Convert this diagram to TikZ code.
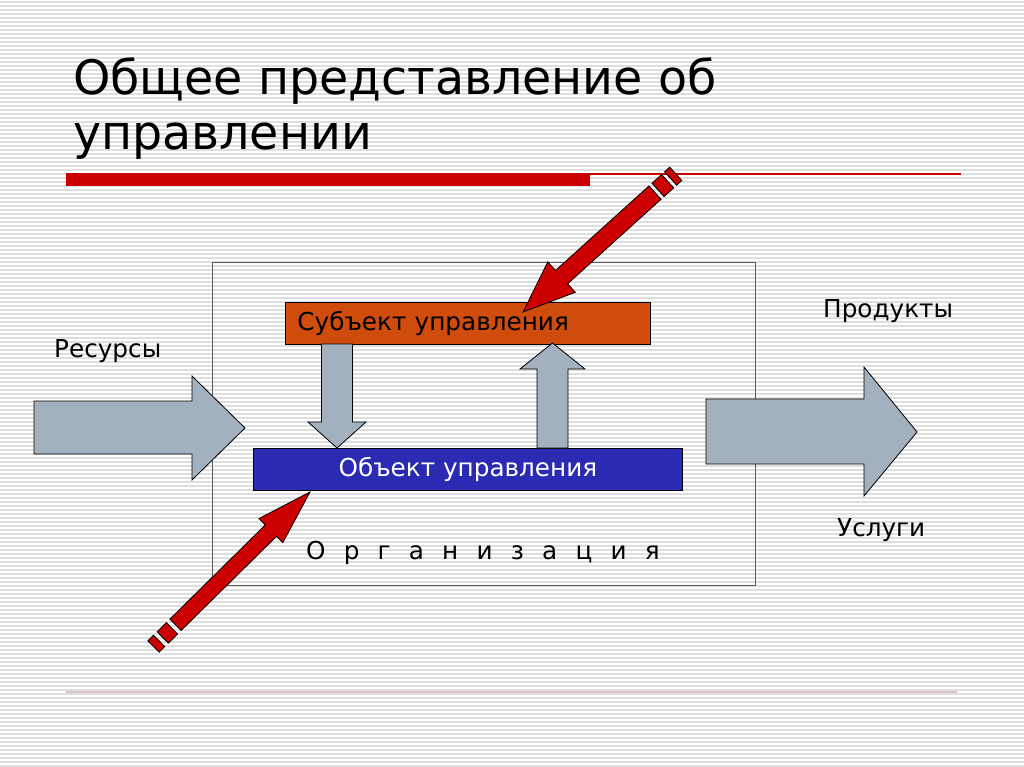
\documentclass[tikz,border=0pt]{standalone}
\usepackage{fontspec}
\setmainfont{DejaVu Sans}
\definecolor{bggray}{RGB}{222,222,222}
\definecolor{arrowgray}{RGB}{163,177,191}
\definecolor{arrowred}{RGB}{204,0,0}
\definecolor{titlered}{RGB}{204,0,0}
\definecolor{pinkline}{RGB}{222,192,200}
\definecolor{subjorange}{RGB}{208,76,12}
\definecolor{objblue}{RGB}{42,42,178}
\definecolor{orgframe}{RGB}{90,90,90}
\begin{document}
\begin{tikzpicture}[x=1pt,y=-1pt,
  bgline/.style={draw=bggray, line width=1.6pt},
  grayarrow/.style={fill=arrowgray, draw=black, line width=0.8pt, line join=miter},
  redarrow/.style={fill=arrowred, draw=black, line width=0.8pt, line join=miter},
  lbl/.style={font=\fontsize{24.7}{28}\selectfont, inner sep=0pt},
  subjbox/.style={draw=black, line width=0.8pt, fill=subjorange, minimum width=365pt,
    minimum height=42pt, text width=341pt, inner xsep=12pt, inner ysep=0pt, align=left,
    font=\fontsize{24.7}{28}\selectfont, text=black},
  objbox/.style={draw=black, line width=0.8pt, fill=objblue, minimum width=429pt,
    minimum height=42pt, inner sep=0pt, font=\fontsize{24.7}{28}\selectfont, text=white},
  orgbox/.style={draw=orgframe, line width=1.3pt, minimum width=543pt, minimum height=323pt, inner sep=0pt}
]
\useasboundingbox (0,0) rectangle (1024,767);
\fill[white] (0,0) rectangle (1024,767);
\foreach \i in {0,...,191} { \draw[bgline] (0,\i*4+2) -- (1024,\i*4+2); }

% title
\node[anchor=base west, inner sep=0pt, align=left, font=\fontsize{47.5}{55}\selectfont] (title) at (73,150)
  {Общее представление об\\управлении};
\fill[titlered] (66,173) rectangle (590,186);
\draw[titlered, line width=1.2pt] (590,174) -- (961,174);
\draw[pinkline, line width=2pt] (66,692) -- (957,692);

% organization frame
\node[orgbox, anchor=north west] (org) at (212,262) {};
\node[lbl, anchor=base west] (orglbl) at (306,559) {\spaceskip=18.2pt О р г а н и з а ц и я};

% boxes
\node[subjbox, anchor=north west] (subj) at (285,302) {Субъект управления};
\node[objbox, anchor=north west] (obj) at (253,448) {Объект управления};

% side labels
\node[lbl, anchor=base west] (res) at (54,357) {Ресурсы};
\node[lbl, anchor=base west] (prod) at (823,317) {Продукты};
\node[lbl, anchor=base west] (serv) at (837,536) {Услуги};

% big arrows
\draw[grayarrow] (34,401) -- (192,401) -- (192,376) -- (245,428) -- (192,480) -- (192,454) -- (34,454) -- cycle;
\draw[grayarrow] (706,399) -- (864,399) -- (864,367) -- (917,432) -- (864,496) -- (864,464) -- (706,464) -- cycle;

% vertical arrows between subject and object
\draw[grayarrow] (321.5,344) -- (352.5,344) -- (352.5,422) -- (366,422) -- (337,448) -- (308,422) -- (321.5,422) -- cycle;
\draw[grayarrow] (537,448) -- (537,369) -- (520,369) -- (552.5,343) -- (585,369) -- (568,369) -- (568,448) -- cycle;

% striped red arrows
\coordinate (t1) at (523,312);
\begin{scope}[shift={(t1)}, x={(0.7416pt,0.6708pt)}, y={(-0.6708pt,0.7416pt)}]
  \draw[redarrow] (0,0) -- (52,20.5) -- (52,9) -- (178,9) -- (178,-9) -- (52,-9) -- (52,-20.5) -- cycle;
  \draw[redarrow] (182,9) -- (195,9) -- (195,-9) -- (182,-9) -- cycle;
  \draw[redarrow] (199,9) -- (206,9) -- (206,-9) -- (199,-9) -- cycle;
\end{scope}
\coordinate (t2) at (310,492);
\begin{scope}[shift={(t2)}, x={(-0.7115pt,-0.7026pt)}, y={(0.7026pt,-0.7115pt)}]
  \draw[redarrow] (0,0) -- (55,17) -- (55,8) -- (189,8) -- (189,-8) -- (55,-8) -- (55,-17) -- cycle;
  \draw[redarrow] (194,8) -- (207,8) -- (207,-8) -- (194,-8) -- cycle;
  \draw[redarrow] (212,8) -- (220,8) -- (220,-8) -- (212,-8) -- cycle;
\end{scope}
\end{tikzpicture}
\end{document}
